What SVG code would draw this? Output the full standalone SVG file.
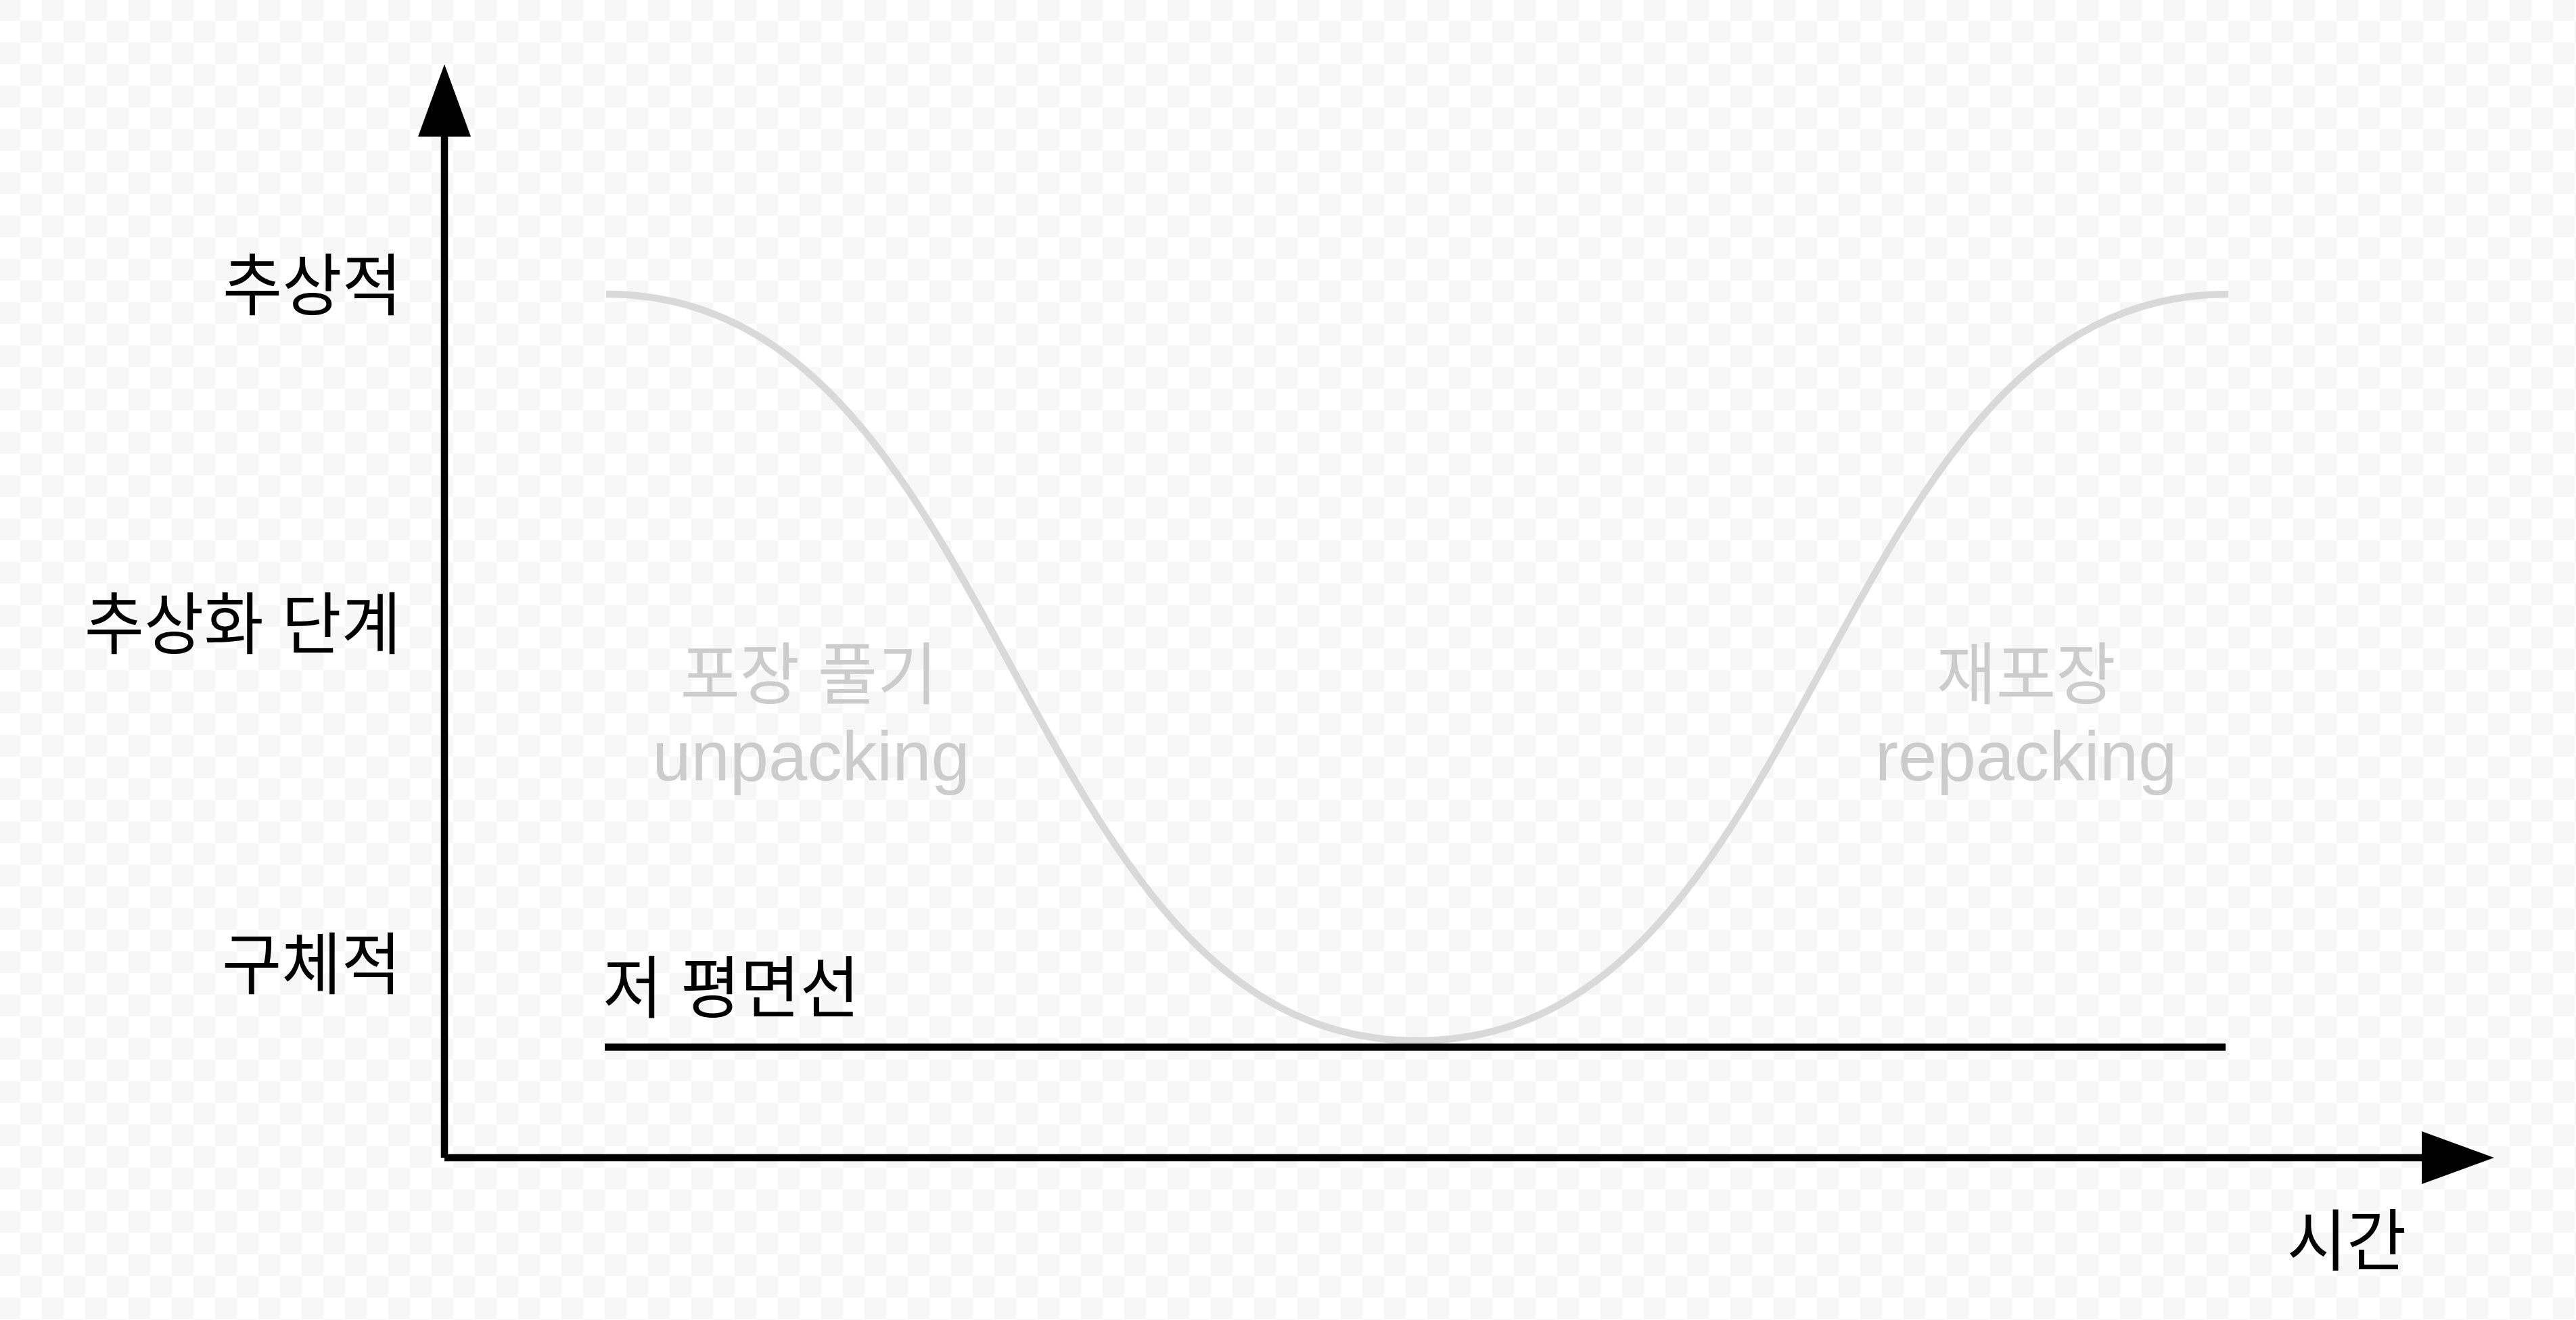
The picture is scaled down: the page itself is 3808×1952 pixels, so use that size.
<svg xmlns="http://www.w3.org/2000/svg" width="3808" height="1952" viewBox="0 0 3808 1952">
<style>
.axis{stroke:#000;stroke-width:10.5;fill:none}
.curve{stroke:#d9d9d9;stroke-width:10.5;fill:none}
.ko{font-family:"Liberation Sans","Noto Sans CJK KR",sans-serif;font-size:100px}
.en{font-family:"Liberation Sans","Noto Sans CJK KR",sans-serif;font-size:103px}
.dark{fill:#000000}
.light{fill:#cccccc}
</style>
<defs>
<pattern id="checker" patternUnits="userSpaceOnUse" x="-2" y="-1.3" width="64" height="64">
<rect x="0" y="0" width="64" height="64" fill="#ffffff"/>
<rect x="0" y="0" width="32" height="32" fill="#f7f7f7"/>
<rect x="32" y="32" width="32" height="32" fill="#f7f7f7"/>
</pattern>
<marker id="arrow" markerUnits="userSpaceOnUse" markerWidth="110" markerHeight="80" refX="0" refY="39" orient="auto" overflow="visible">
<path d="M0,0 L107,39 L0,78 z" fill="#000"/>
</marker>
</defs>
<rect x="0" y="0" width="3808" height="1952" fill="url(#checker)"/>
<g id="connectors">
<path id="wave" class="curve" d="M896,435 C1495.5,435 1495.5,1539 2095,1539 C2694.5,1539 2694.5,435 3294,435"/>
<line id="low-plane" class="axis" x1="894" y1="1548.5" x2="3290" y2="1548.5"/>
<line id="y-axis" class="axis" x1="657" y1="1712" x2="657" y2="202" marker-end="url(#arrow)"/>
<line id="x-axis" class="axis" x1="657" y1="1712" x2="3580" y2="1712" marker-end="url(#arrow)"/>
</g>
<g id="label-abstract"><text class="ko dark" text-anchor="end" transform="translate(594,458) scale(0.96,1)">추상적</text></g>
<g id="label-level"><text class="ko dark" text-anchor="end" transform="translate(593,959) scale(0.96,1)">추상화 단계</text></g>
<g id="label-concrete"><text class="ko dark" text-anchor="end" transform="translate(593,1462) scale(0.96,1)">구체적</text></g>
<g id="label-low-plane"><text class="ko dark" text-anchor="start" transform="translate(891,1497) scale(0.96,1)">저 평면선</text></g>
<g id="label-time"><text class="ko dark" text-anchor="middle" transform="translate(3469,1871) scale(0.96,1)">시간</text></g>
<g id="label-unpacking">
<text class="ko light" text-anchor="middle" transform="translate(1195.5,1033) scale(0.96,1)">포장 풀기</text>
<text class="en light" text-anchor="middle" x="1199" y="1154">unpacking</text>
</g>
<g id="label-repacking">
<text class="ko light" text-anchor="middle" transform="translate(2995,1033) scale(0.96,1)">재포장</text>
<text class="en light" text-anchor="middle" x="2995" y="1154">repacking</text>
</g>
</svg>
